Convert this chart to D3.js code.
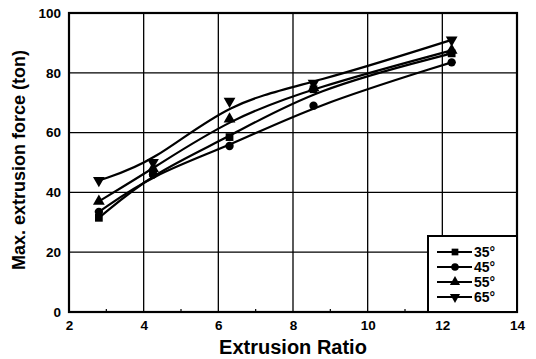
<!DOCTYPE html>
<html>
<head>
<meta charset="utf-8">
<script src="https://cdn.jsdelivr.net/npm/d3@7"></script>
<style>
  body { margin: 0; background: #fff; }
  text { font-family: "Liberation Sans", Arial, sans-serif; font-weight: bold; fill: #000; }
</style>
</head>
<body>
<svg id="chart" width="536" height="359"></svg>
<script>
// data
const ratios = [2.8, 4.25, 6.3, 8.55, 12.25];
const seriesNames = ["35°", "45°", "55°", "65°"];
const force35 = [31.5, 46.5, 58.5, 74.5, 86.5];
const force45 = [33.5, 46, 55.5, 69, 83.5];
const force55 = [37, 48, 64.5, 75, 87.5];
const force65 = [44, 50, 70.5, 76.5, 91];
const xTicks = [2, 4, 6, 8, 10, 12, 14];
const yTicks = [0, 20, 40, 60, 80, 100];

const seriesValues = [force35, force45, force55, force65];
const symbols = [d3.symbolSquare, d3.symbolCircle, d3.symbolTriangle, d3.symbolTriangle];

const svg = d3.select("#chart");
const margin = { top: 13, right: 19, bottom: 47, left: 69 };
const width = 536 - margin.left - margin.right;
const height = 359 - margin.top - margin.bottom;

const x = d3.scaleLinear().domain([2, 14]).range([0, width]);
const y = d3.scaleLinear().domain([0, 100]).range([height, 0]);

const g = svg.append("g")
    .attr("transform", "translate(" + margin.left + "," + margin.top + ")");

// grid
g.selectAll(".vgrid")
    .data(xTicks.slice(1, -1))
    .enter().append("line")
    .attr("x1", d => x(d)).attr("x2", d => x(d))
    .attr("y1", 0).attr("y2", height)
    .attr("stroke", "#000").attr("stroke-width", 1.3);

g.selectAll(".hgrid")
    .data(yTicks.slice(1, -1))
    .enter().append("line")
    .attr("x1", 0).attr("x2", width)
    .attr("y1", d => y(d)).attr("y2", d => y(d))
    .attr("stroke", "#000").attr("stroke-width", 1.3);

// minor ticks on bottom
g.selectAll(".minor")
    .data(d3.range(3, 14, 2))
    .enter().append("line")
    .attr("x1", d => x(d)).attr("x2", d => x(d))
    .attr("y1", height).attr("y2", height - 3)
    .attr("stroke", "#000").attr("stroke-width", 1.2);

// axes
const xAxis = g.append("g")
    .attr("transform", "translate(0," + height + ")")
    .call(d3.axisBottom(x).tickValues(xTicks).tickSize(0).tickPadding(8));
const yAxis = g.append("g")
    .call(d3.axisLeft(y).tickValues(yTicks).tickSize(0).tickPadding(8));
[xAxis, yAxis].forEach(a => {
    a.select(".domain").remove();
    a.selectAll("text").style("font-size", "13.5px")
        .style("font-family", "'Liberation Sans', Arial, sans-serif")
        .style("font-weight", "bold").attr("fill", "#000");
});

// frame
g.append("rect")
    .attr("width", width).attr("height", height)
    .attr("fill", "none").attr("stroke", "#000").attr("stroke-width", 2.2);

// curves
const line = d3.line()
    .x((d, i) => x(ratios[i]))
    .y(d => y(d))
    .curve(d3.curveBasis);

seriesValues.forEach((vals, s) => {
    g.append("path")
        .datum(vals)
        .attr("d", line)
        .attr("fill", "none")
        .attr("stroke", "#000")
        .attr("stroke-width", 2.2);

    g.selectAll(".m" + s)
        .data(vals)
        .enter().append("path")
        .attr("d", d3.symbol().type(symbols[s]).size(s === 1 ? 55 : 60))
        .attr("transform", (d, i) => "translate(" + x(ratios[i]) + "," + y(d) + ")" + (s === 3 ? " rotate(180)" : ""))
        .attr("fill", "#000");
});

// legend
const lg = g.append("g")
    .attr("transform", "translate(" + (width - 89) + "," + (height - 76) + ")");
lg.append("rect")
    .attr("width", 89).attr("height", 76)
    .attr("fill", "#fff").attr("stroke", "#000").attr("stroke-width", 2);

seriesNames.forEach((name, s) => {
    const ly = 16 + s * 15;
    lg.append("line")
        .attr("x1", 9).attr("x2", 44)
        .attr("y1", ly).attr("y2", ly)
        .attr("stroke", "#000").attr("stroke-width", 1.8);
    lg.append("path")
        .attr("d", d3.symbol().type(symbols[s]).size(45))
        .attr("transform", "translate(27," + ly + ")" + (s === 3 ? " rotate(180)" : ""))
        .attr("fill", "#000");
    lg.append("text")
        .attr("x", 46).attr("y", ly + 5)
        .style("font-size", "14px")
        .text(name);
});

// axis titles
svg.append("text")
    .attr("x", 293)
    .attr("y", 354)
    .attr("text-anchor", "middle")
    .style("font-size", "20px")
    .text("Extrusion Ratio");

svg.append("text")
    .attr("transform", "translate(25,160) rotate(-90)")
    .attr("text-anchor", "middle")
    .style("font-size", "18px")
    .text("Max. extrusion force (ton)");
</script>
</body>
</html>
